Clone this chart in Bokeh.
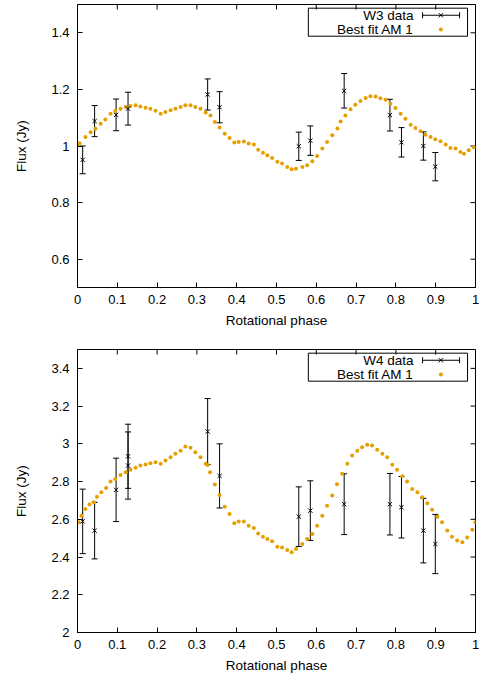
import math
from bokeh.plotting import figure
from bokeh.layouts import column
from bokeh.models import (FixedTicker, Whisker, TeeHead, ColumnDataSource,
                          Range1d, Label, BoxAnnotation)
from bokeh.embed import file_html
from bokeh.resources import INLINE

FONT = "Liberation Sans"
FS_TICK = "13px"
FS_LABEL = "13.5px"
ORANGE = "#E69F00"

# ---------------- data ----------------
x_ticks = [0.0, 0.1, 0.2, 0.3, 0.4, 0.5, 0.6, 0.7, 0.8, 0.9, 1.0]
x_tick_labels = ["0", "0.1", "0.2", "0.3", "0.4", "0.5", "0.6", "0.7", "0.8", "0.9", "1"]

y_ticks_w3 = [0.6, 0.8, 1.0, 1.2, 1.4]
y_tick_labels_w3 = ["0.6", "0.8", "1", "1.2", "1.4"]
y_ticks_w4 = [2.0, 2.2, 2.4, 2.6, 2.8, 3.0, 3.2, 3.4]
y_tick_labels_w4 = ["2", "2.2", "2.4", "2.6", "2.8", "3", "3.2", "3.4"]

phase_w3 = [0.013, 0.043, 0.097, 0.127, 0.327, 0.357, 0.556, 0.585, 0.670, 0.785, 0.814, 0.869, 0.899]
flux_w3 = [0.951, 1.088, 1.110, 1.132, 1.182, 1.137, 0.999, 1.019, 1.195, 1.109, 1.013, 1.000, 0.927]
err_w3 = [0.049, 0.055, 0.056, 0.058, 0.055, 0.055, 0.050, 0.052, 0.061, 0.056, 0.052, 0.050, 0.050]

phase_w4 = [0.013, 0.043, 0.097, 0.127, 0.127, 0.327, 0.357, 0.556, 0.585, 0.670, 0.785, 0.814, 0.869, 0.899]
flux_w4 = [2.589, 2.540, 2.756, 2.934, 2.885, 3.065, 2.830, 2.614, 2.646, 2.680, 2.680, 2.664, 2.540, 2.469]
err_w4 = [0.171, 0.150, 0.168, 0.170, 0.178, 0.175, 0.170, 0.158, 0.158, 0.161, 0.163, 0.163, 0.171, 0.157]

fit_phase_w3 = [0.000, 0.005, 0.020, 0.033, 0.045, 0.058, 0.070, 0.083, 0.095, 0.108, 0.121, 0.133,
                0.146, 0.158, 0.171, 0.183, 0.196, 0.209, 0.221, 0.234, 0.246, 0.259, 0.271, 0.284,
                0.296, 0.309, 0.322, 0.334, 0.345, 0.357, 0.370, 0.382, 0.394, 0.405, 0.418, 0.430,
                0.443, 0.454, 0.466, 0.477, 0.489, 0.502, 0.514, 0.527, 0.538, 0.549, 0.565, 0.577,
                0.590, 0.602, 0.615, 0.627, 0.640, 0.653, 0.661, 0.673, 0.686, 0.698, 0.711, 0.724,
                0.736, 0.749, 0.761, 0.774, 0.786, 0.799, 0.812, 0.824, 0.837, 0.849, 0.862, 0.874,
                0.887, 0.899, 0.912, 0.925, 0.937, 0.950, 0.962, 0.971, 0.983, 0.996]
fit_w3 = [1.003, 1.010, 1.032, 1.049, 1.061, 1.079, 1.094, 1.114, 1.124, 1.132, 1.138, 1.141,
          1.144, 1.140, 1.135, 1.132, 1.125, 1.114, 1.120, 1.126, 1.132, 1.138, 1.144, 1.144,
          1.138, 1.132, 1.118, 1.108, 1.085, 1.065, 1.043, 1.028, 1.012, 1.014, 1.016, 1.009,
          1.005, 0.987, 0.976, 0.967, 0.958, 0.944, 0.938, 0.926, 0.918, 0.920, 0.926, 0.932,
          0.946, 0.965, 0.991, 1.014, 1.038, 1.062, 1.087, 1.108, 1.130, 1.146, 1.159, 1.170,
          1.176, 1.175, 1.169, 1.163, 1.149, 1.134, 1.114, 1.096, 1.075, 1.064, 1.052, 1.040,
          1.032, 1.024, 1.017, 1.005, 0.993, 0.991, 0.979, 0.973, 0.985, 0.996]

fit_phase_w4 = [0.003, 0.010, 0.020, 0.030, 0.041, 0.049, 0.060, 0.072, 0.083, 0.095, 0.108, 0.121,
                0.133, 0.146, 0.158, 0.171, 0.183, 0.196, 0.209, 0.221, 0.234, 0.246, 0.259, 0.271,
                0.284, 0.296, 0.309, 0.322, 0.327, 0.333, 0.345, 0.357, 0.370, 0.382, 0.394, 0.405,
                0.418, 0.430, 0.443, 0.454, 0.466, 0.477, 0.489, 0.502, 0.514, 0.527, 0.538, 0.549,
                0.565, 0.577, 0.590, 0.602, 0.615, 0.627, 0.640, 0.652, 0.665, 0.678, 0.690, 0.703,
                0.715, 0.728, 0.740, 0.753, 0.766, 0.778, 0.791, 0.803, 0.816, 0.828, 0.841, 0.854,
                0.866, 0.879, 0.891, 0.904, 0.916, 0.929, 0.941, 0.954, 0.967, 0.979, 0.992, 1.000]
fit_w4 = [2.584, 2.619, 2.655, 2.678, 2.690, 2.720, 2.743, 2.766, 2.801, 2.814, 2.835, 2.849,
          2.862, 2.873, 2.885, 2.890, 2.897, 2.902, 2.894, 2.911, 2.929, 2.947, 2.964, 2.986,
          2.979, 2.955, 2.929, 2.894, 2.888, 2.849, 2.784, 2.729, 2.667, 2.628, 2.579, 2.589,
          2.589, 2.566, 2.554, 2.525, 2.508, 2.496, 2.483, 2.455, 2.451, 2.437, 2.425, 2.443,
          2.469, 2.496, 2.522, 2.566, 2.619, 2.672, 2.726, 2.786, 2.841, 2.894, 2.938, 2.964,
          2.982, 2.995, 2.991, 2.968, 2.947, 2.929, 2.889, 2.862, 2.828, 2.801, 2.761, 2.743,
          2.717, 2.685, 2.650, 2.614, 2.584, 2.540, 2.508, 2.487, 2.478, 2.504, 2.544, 2.584]

FRAME_W = 398
FRAME_H = 283
TICK_PX = 5


def make_plot(height, border_top, border_bottom, yr, yticks, ylabels,
              phase, flux, err, fphase, fflux, name):
    p = figure(width=485, height=height, output_backend="svg", toolbar_location=None,
               x_range=Range1d(0, 1), y_range=Range1d(*yr),
               min_border_left=77, min_border_right=10, min_border_top=border_top,
               min_border_bottom=border_bottom, x_axis_label="Rotational phase",
               y_axis_label="Flux (Jy)")
    p.background_fill_color = "white"
    p.border_fill_color = "white"
    p.outline_line_color = "black"
    p.outline_line_width = 1
    p.outline_line_alpha = 1
    p.grid.visible = False

    xo = {t: l for t, l in zip(x_ticks, x_tick_labels)}
    yo = {t: l for t, l in zip(yticks, ylabels)}

    for ax, ticks, over in ((p.xaxis[0], x_ticks, xo), (p.yaxis[0], yticks, yo)):
        ax.ticker = FixedTicker(ticks=ticks)
        ax.major_label_overrides = over
        ax.minor_tick_line_color = None
        ax.major_tick_in = TICK_PX
        ax.major_tick_out = 0
        ax.axis_line_color = "black"
        ax.major_tick_line_color = "black"
        ax.major_label_text_font = FONT
        ax.major_label_text_font_size = FS_TICK
        ax.major_label_text_color = "black"
        ax.axis_label_text_font = FONT
        ax.axis_label_text_font_size = FS_LABEL
        ax.axis_label_text_font_style = "normal"
        ax.axis_label_text_color = "black"
    p.xaxis[0].major_label_standoff = 7
    p.xaxis[0].axis_label_standoff = 6
    p.yaxis[0].major_label_standoff = 8
    p.yaxis[0].axis_label_standoff = 19

    # mirror ticks on top and right (inward)
    dy = TICK_PX / FRAME_H * (yr[1] - yr[0])
    dx = TICK_PX / FRAME_W * 1.0
    p.segment(x0=x_ticks, y0=[yr[1]] * len(x_ticks), x1=x_ticks, y1=[yr[1] - dy] * len(x_ticks),
              line_color="black", line_width=1)
    p.segment(x0=[1.0] * len(yticks), y0=yticks, x1=[1.0 - dx] * len(yticks), y1=yticks,
              line_color="black", line_width=1)

    # best-fit model dots
    p.scatter(fphase, fflux, size=4, fill_color=ORANGE, line_color=None)

    # data with error bars
    src = ColumnDataSource(dict(x=phase, y=flux,
                                lo=[f - e for f, e in zip(flux, err)],
                                hi=[f + e for f, e in zip(flux, err)]))
    w = Whisker(base="x", upper="hi", lower="lo", source=src, dimension="height",
                line_color="black", line_width=1,
                upper_head=TeeHead(size=6, line_color="black", line_width=1),
                lower_head=TeeHead(size=6, line_color="black", line_width=1))
    p.add_layout(w)
    p.scatter("x", "y", source=src, marker="x", size=6, line_color="black", line_width=1)

    # legend (gnuplot style: text right-aligned, sample on the right)
    def fx(f):
        return f

    def fy(f):
        return yr[1] - f * (yr[1] - yr[0])

    p.add_layout(BoxAnnotation(left=fx(0.580), right=fx(0.980), top=fy(0.013), bottom=fy(0.112),
                               fill_alpha=0, line_color="black", line_width=1, line_alpha=1))
    r1, r2 = fy(0.038), fy(0.088)
    for txt, yy in ((name, r1), ("Best fit AM 1", r2)):
        p.add_layout(Label(x=fx(0.844), y=yy, text=txt, text_align="right",
                           text_baseline="middle", text_font=FONT, text_font_size=FS_LABEL,
                           text_color="black"))
    p.segment(x0=[fx(0.867)], y0=[r1], x1=[fx(0.960)], y1=[r1], line_color="black", line_width=1)
    p.scatter([fx(0.867), fx(0.960)], [r1, r1], marker="dash", angle=math.pi / 2, size=6,
              line_color="black", line_width=1)
    p.scatter([fx(0.913)], [r1], marker="x", size=6, line_color="black", line_width=1)
    p.scatter([fx(0.913)], [r2], size=4, fill_color=ORANGE, line_color=None)
    return p


p1 = make_plot(340, 4, 53, (0.5, 1.5), y_ticks_w3, y_tick_labels_w3,
               phase_w3, flux_w3, err_w3, fit_phase_w3, fit_w3, "W3 data")
p2 = make_plot(337, 9, 45, (2.0, 3.5), y_ticks_w4, y_tick_labels_w4,
               phase_w4, flux_w4, err_w4, fit_phase_w4, fit_w4, "W4 data")

layout = column(p1, p2, spacing=0)
open("out.html", "w").write(file_html(layout, INLINE))
